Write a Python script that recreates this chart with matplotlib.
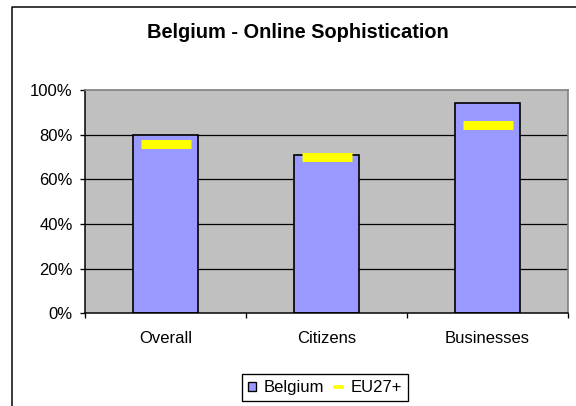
import matplotlib
matplotlib.use("Agg")
import matplotlib.pyplot as plt
from matplotlib.patches import Patch
from matplotlib.lines import Line2D
from matplotlib.ticker import FixedLocator, FuncFormatter

categories = ["Overall", "Citizens", "Businesses"]
belgium = [0.80, 0.71, 0.94]
eu27 = [0.76, 0.70, 0.845]
yticks = [0, 0.2, 0.4, 0.6, 0.8, 1.0]

plt.rcParams['font.family'] = ['Liberation Sans', 'DejaVu Sans']

DPI = 120
fig = plt.figure(figsize=(576 / DPI, 406 / DPI), dpi=DPI)
W, H = 576, 406

def px_to_fig(x0, y0, x1, y1):
    return [x0 / W, 1 - y1 / H, (x1 - x0) / W, (y1 - y0) / H]

ax = fig.add_axes(px_to_fig(85, 90, 568, 313.3))
ax.set_facecolor('#C0C0C0')

x = list(range(len(categories)))
ax.set_xlim(-0.5, len(categories) - 0.5)
ax.set_ylim(0, 1)

for yv in yticks[1:-1]:
    ax.axhline(yv, color='black', linewidth=0.75, zorder=1)

ax.bar(x, belgium, width=0.40, color='#9999FF', edgecolor='black',
       linewidth=1.0, zorder=2)
ax.plot(x, eu27, linestyle='none', marker='_', markersize=30,
        markeredgewidth=5.4, color='#FFFF00', zorder=3)

# spines
for s in ['top', 'right']:
    ax.spines[s].set_color('#808080')
    ax.spines[s].set_linewidth(1.0)
ax.spines['left'].set_color('black')
ax.spines['bottom'].set_color('black')
ax.spines['left'].set_linewidth(0.9)
ax.spines['bottom'].set_linewidth(0.9)

ax.yaxis.set_major_locator(FixedLocator(yticks))
ax.yaxis.set_major_formatter(FuncFormatter(lambda v, p: f"{int(round(v * 100))}%"))
ax.tick_params(axis='y', direction='out', length=3, width=0.8, pad=4.5,
               labelsize=10, colors='black')

ax.set_xticks([-0.5, 0.5, 1.5, 2.5])
ax.set_xticklabels([])
ax.set_xticks(x, minor=True)
ax.set_xticklabels(categories, minor=True)
ax.tick_params(axis='x', which='major', direction='out', length=3, width=0.8)
ax.tick_params(axis='x', which='minor', length=0, pad=10.5, labelsize=10)

# title
fig.text(298 / W, 1 - 32 / H, "Belgium - Online Sophistication",
         ha='center', va='center', fontsize=12, fontweight='bold')

# legend
handles = [Patch(facecolor='#9999FF', edgecolor='black', linewidth=0.8),
           Line2D([0], [0], color='#FFFF00', linewidth=2.2)]
leg = fig.legend(handles, ["Belgium", "EU27+"], loc='center',
                 bbox_to_anchor=(325 / W, 1 - 387.5 / H), ncol=2,
                 fontsize=10, frameon=True, fancybox=False, framealpha=1,
                 edgecolor='black', handlelength=0.45, handleheight=0.45,
                 handletextpad=0.5, columnspacing=0.6, borderpad=0.35,
                 borderaxespad=0)
leg.get_frame().set_linewidth(0.8)

# outer border (cropped on right and bottom)
fig.add_artist(Line2D([12 / W, 12 / W, 1.01], [-0.01, 1 - 7 / H, 1 - 7 / H],
                      transform=fig.transFigure, color='black', linewidth=0.9))

fig.savefig("out.png", dpi=DPI)
